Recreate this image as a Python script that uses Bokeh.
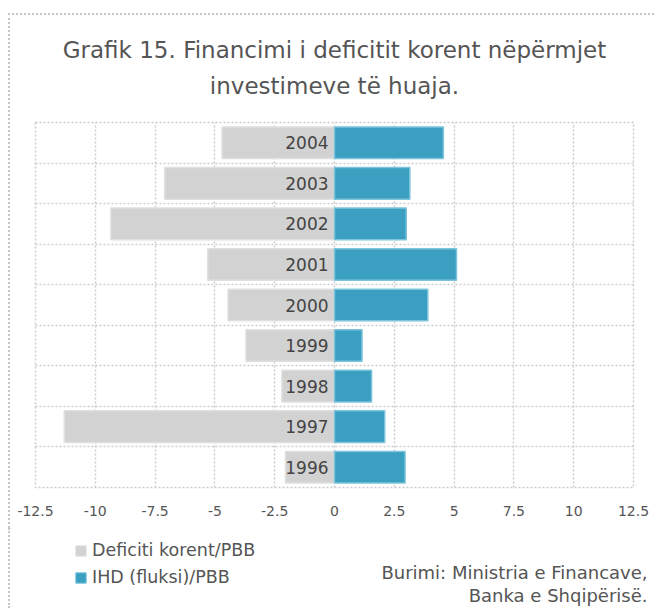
from bokeh.plotting import figure
from bokeh.models import (FixedTicker, NumeralTickFormatter, Legend, LegendItem,
                          ColumnDataSource, Title)
from bokeh.core.properties import value
from bokeh.embed import file_html
from bokeh.resources import INLINE

# ---- data ----
years = [1996, 1997, 1998, 1999, 2000, 2001, 2002, 2003, 2004]
year_labels = ["1996", "1997", "1998", "1999", "2000", "2001", "2002", "2003", "2004"]
deficit = [-2.05, -11.3, -2.2, -3.7, -4.45, -5.3, -9.35, -7.1, -4.7]
fdi = [2.95, 2.1, 1.55, 1.15, 3.9, 5.1, 3.0, 3.15, 4.55]
x_ticks = [-12.5, -10, -7.5, -5, -2.5, 0, 2.5, 5, 7.5, 10, 12.5]
series_names = ["Deficiti korent/PBB", "IHD (fluksi)/PBB"]
title_lines = ["Grafik 15. Financimi i deficitit korent nëpërmjet",
               "investimeve të huaja."]
source_lines = ["Burimi: Ministria e Financave,", "Banka e Shqipërisë."]

FONT = "DejaVu Sans"
GREY = "#d2d2d2"
GREY_EDGE = "#e0e0e0"
BLUE = "#3a9fc1"
BLUE_EDGE = "#7cc4dc"
TXT = "#555555"
BORDER = "2px dotted #c8c8c8"

src = ColumnDataSource(dict(y=years, deficit=deficit, fdi=fdi, label=year_labels,
                            lx=[-0.25] * len(years)))

# ---- main chart ----
p = figure(width=646, height=515, output_backend="svg", toolbar_location=None,
           x_range=(-12.5, 12.5), y_range=(1995.5, 2004.5),
           min_border_left=25, min_border_right=23, min_border_top=107,
           min_border_bottom=43, margin=(13, 0, 0, 8),
           styles={"border-top": BORDER, "border-left": BORDER})

# title: line 1 (outer panel), line 2 (panel next to the frame)
p.title.text = title_lines[0]
p.title.align = "center"
p.title.vertical_align = "bottom"
p.title.text_font = FONT
p.title.text_font_size = "23px"
p.title.text_font_style = "normal"
p.title.text_color = TXT
p.title.standoff = -25
p.add_layout(Title(text=title_lines[1], align="center", vertical_align="top",
                   text_font=FONT, text_font_size="23px",
                   text_font_style="normal", text_color=TXT, standoff=44),
             "above")

r_def = p.hbar(y="y", left=0, right="deficit", height=0.78, source=src,
               fill_color=GREY, line_color=GREY_EDGE, line_width=1.5)
r_fdi = p.hbar(y="y", left=0, right="fdi", height=0.78, source=src,
               fill_color=BLUE, line_color=BLUE_EDGE, line_width=1.5)
p.text(x="lx", y="y", text="label", source=src, text_align="right",
       text_baseline="middle", text_font=value(FONT), text_font_size="17px",
       text_color="#444444")

p.yaxis.visible = False
p.xaxis.ticker = FixedTicker(ticks=x_ticks)
p.xaxis.formatter = NumeralTickFormatter(format="0.[0]")
p.xaxis.axis_line_color = None
p.xaxis.major_tick_line_color = None
p.xaxis.minor_tick_line_color = None
p.xaxis.major_label_standoff = 12
p.xaxis.major_label_text_font = FONT
p.xaxis.major_label_text_font_size = "14px"
p.xaxis.major_label_text_color = TXT

p.xgrid.ticker = FixedTicker(ticks=x_ticks)
p.ygrid.ticker = FixedTicker(ticks=[y - 0.5 for y in years] + [years[-1] + 0.5])
for g in (p.xgrid, p.ygrid):
    g.grid_line_color = "#cccccc"
    g.grid_line_dash = "2 2"
    g.grid_line_width = 1.5
p.outline_line_color = "#cccccc"
p.outline_line_dash = "2 2"
p.outline_line_width = 1.5

# ---- footer: legend + source (page coordinates) ----
f = figure(width=646, height=80, output_backend="svg", toolbar_location=None,
           x_range=(10, 656), y_range=(610, 530), min_border=0,
           margin=(0, 0, 0, 8), styles={"border-left": BORDER})
f.axis.visible = False
f.grid.visible = False
f.outline_line_color = None
f.title = None

# legend swatch renderers (kept outside the visible range)
swatch = ColumnDataSource(dict(y=[0], left=[0], right=[1]))
d1 = f.hbar(y="y", left="left", right="right", height=1, source=swatch,
            fill_color=GREY, line_color=GREY_EDGE, line_width=1)
d2 = f.hbar(y="y", left="left", right="right", height=1, source=swatch,
            fill_color=BLUE, line_color=BLUE_EDGE, line_width=1)
legend = Legend(items=[LegendItem(label=series_names[0], renderers=[d1]),
                       LegendItem(label=series_names[1], renderers=[d2])],
                location=(64, 21), orientation="vertical",
                padding=0, margin=0, border_line_color=None,
                background_fill_alpha=0, glyph_width=13, glyph_height=13,
                label_standoff=5, spacing=7, label_height=13,
                label_text_font=FONT, label_text_font_size="17.5px",
                label_text_color=TXT)
f.add_layout(legend, "center")

fsrc = ColumnDataSource(dict(x=[647, 647], y=[574, 597], t=source_lines))
f.text(x="x", y="y", text="t", source=fsrc, text_align="right",
       text_baseline="middle", text_font=value(FONT), text_font_size="18px",
       text_color=TXT)

open("out.html", "w").write(file_html([p, f], INLINE))
